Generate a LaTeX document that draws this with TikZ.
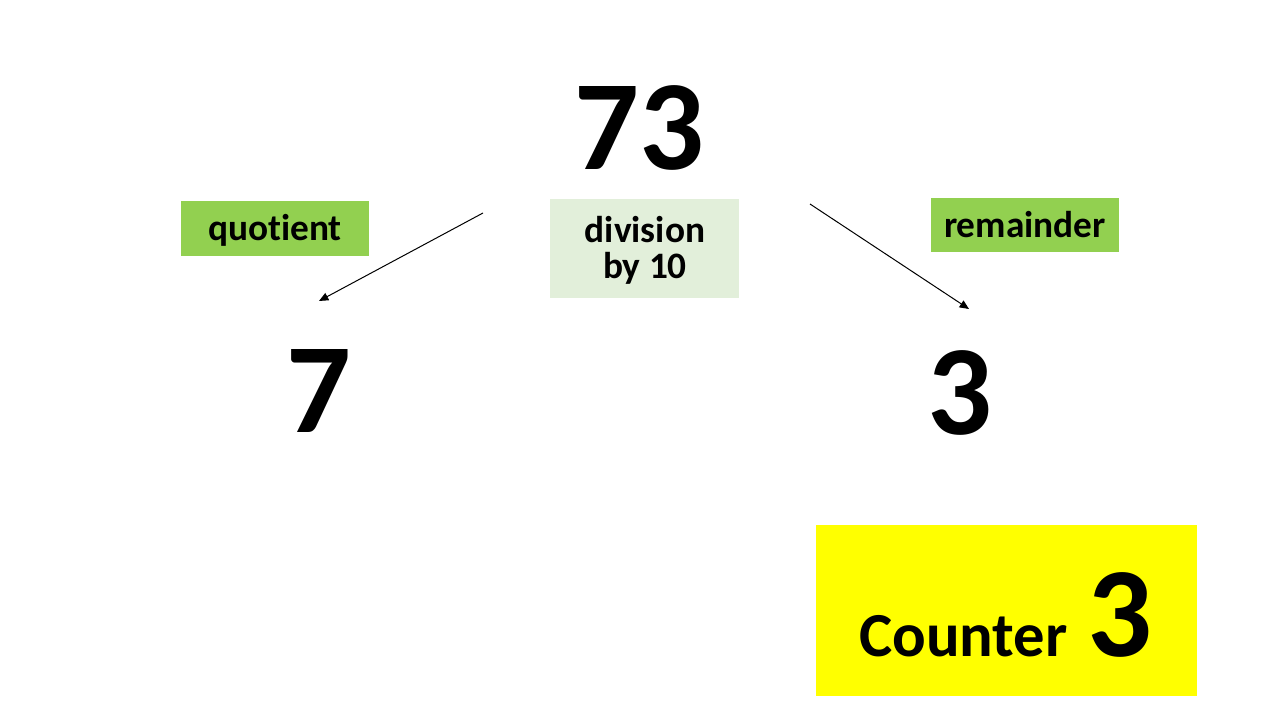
\documentclass[tikz,border=0pt]{standalone}
\usepackage{fontspec}
\setmainfont{Carlito}[Ligatures=NoCommon]
\usetikzlibrary{arrows.meta}
\definecolor{lgreen}{HTML}{92D050}
\definecolor{pgreen}{HTML}{E2EFDA}
\definecolor{yel}{HTML}{FFFF00}
\tikzset{
  big/.style={font=\fontsize{96}{100}\selectfont\bfseries, inner sep=0pt, anchor=base},
  lbl/.style={font=\fontsize{28}{30}\selectfont\bfseries, inner sep=0pt, anchor=base},
  conn/.style={draw=black, line width=0.75pt, -{Triangle[length=7pt,width=6pt]}}
}
\begin{document}
\begin{tikzpicture}[x=0.75pt,y=-0.75pt]
\useasboundingbox (0,0) rectangle (1280,720);
% boxes
\fill[lgreen] (181,201) rectangle (369,256);
\fill[pgreen] (550,199) rectangle (739,298);
\fill[lgreen] (931,198) rectangle (1119,252);
\fill[yel] (816,525) rectangle (1197,696);
% texts
\node[big] (n73) at (639,170) {73};
\node[big] (n7) at (319,432) {7};
\node[big] (n3) at (960,434) {3};
\node[lbl] (q) at (275,240) {quotient};
\node[lbl] (r) at (1025,238) {remainder};
\node[lbl, align=center, font=\fontsize{28}{27}\selectfont\bfseries, anchor=base] (d) at (645,278) {division\\by 10};
\node[font=\fontsize{47}{50}\selectfont\bfseries, inner sep=0pt, anchor=base west] (c) at (859,656) {Counter};
\node[big, anchor=base west] (c3) at (1087,656) {3};
% connectors
\coordinate (ls) at (483,213);
\coordinate (le) at (319,301);
\coordinate (rs) at (810,204);
\coordinate (re) at (969,309);
\draw[conn] (ls) -- (le);
\draw[conn] (rs) -- (re);
\end{tikzpicture}
\end{document}
